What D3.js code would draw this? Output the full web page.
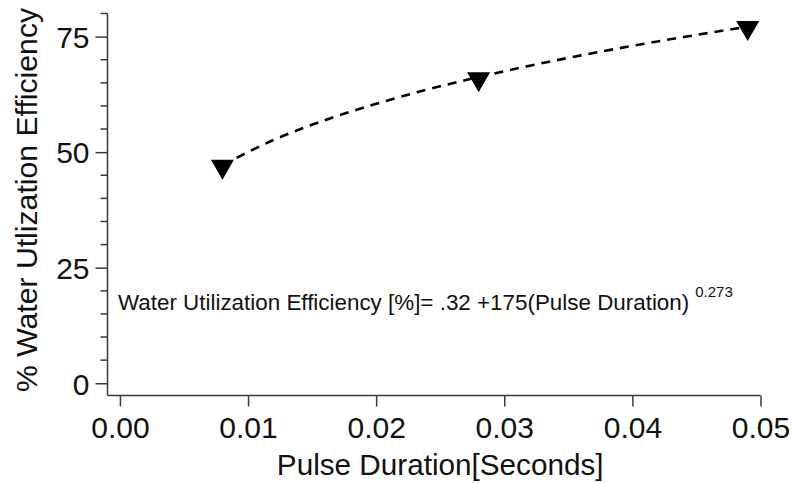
<!DOCTYPE html>
<html>
<head>
<meta charset="utf-8">
<script src="https://cdn.jsdelivr.net/npm/d3@7/dist/d3.min.js"></script>
<style>
  html, body { margin: 0; padding: 0; background: #fff; }
  svg { display: block; font-family: "Liberation Sans", Arial, sans-serif; }
</style>
</head>
<body>
<svg id="chart" width="792" height="483"></svg>
<script>
// ---- data ----
const pulseDuration = [0.008, 0.028, 0.049];          // seconds
const efficiency    = [46.2, 65.1, 76.2];             // %
// fitted curve (dashed)
const fitX = [0.008, 0.012, 0.016, 0.020, 0.024, 0.028, 0.032, 0.036, 0.040, 0.044, 0.049];
const fitY = [47.17, 52.65, 56.92, 60.47, 63.55, 66.25, 68.70, 70.94, 73.00, 74.91, 77.14];
const xTicks = [0.00, 0.01, 0.02, 0.03, 0.04, 0.05];
const yTicks = [0, 25, 50, 75];
const yMinorTicks = [5, 10, 15, 20, 30, 35, 40, 45, 55, 60, 65, 70, 80];
const xTitle = "Pulse Duration[Seconds]";
const yTitle = "% Water Utlization Efficiency";
const eqMain = "Water Utilization Efficiency [%]= .32 +175(Pulse Duration)";
const eqExp = "0.273";

(function () {
// ---- layout ----
const svg = d3.select("#chart");
const mLeft = 107.5, mRight = 760.5, mTop = 13.5, mBottom = 395.5;
const x = d3.scaleLinear().domain([-0.00097, 0.05]).range([mLeft, mRight]);
const y = d3.scaleLinear().domain([-2.65, 80]).range([mBottom, mTop]);
const axisColor = "#3a3a3a";

// x axis
const gx = svg.append("g").attr("transform", `translate(0,${mBottom})`)
  .call(d3.axisBottom(x).tickValues(xTicks).tickFormat(d3.format(".2f")).tickSize(11).tickPadding(10));
gx.select(".domain").attr("d", `M${mLeft},0H${mRight}`);
// y axis
const gy = svg.append("g").attr("transform", `translate(${mLeft},0)`)
  .call(d3.axisLeft(y).tickValues(yTicks).tickFormat(d3.format("d")).tickSize(12).tickPadding(6));
gy.select(".domain").attr("d", `M0,${mTop}V${mBottom}`);
svg.append("g").attr("transform", `translate(${mLeft},0)`)
  .selectAll("line").data(yMinorTicks).join("line")
  .attr("x1", -7).attr("x2", 0)
  .attr("y1", d => y(d)).attr("y2", d => y(d))
  .attr("stroke", axisColor).attr("stroke-width", 1.5);

[gx, gy].forEach(g => {
  g.selectAll(".domain, .tick line").attr("stroke", axisColor).attr("stroke-width", 1.5);
  g.selectAll(".tick text").attr("fill", "#111").style("font-size", "30px")
    .style("font-family", "'Liberation Sans', Arial, sans-serif");
});
gy.selectAll(".tick text").attr("dy", "0.36em");

// axis titles
svg.append("text").attr("x", (x(0) + x(0.05)) / 2).attr("y", 475)
  .attr("text-anchor", "middle").attr("fill", "#111").style("font-size", "29.7px").text(xTitle);
svg.append("text").attr("transform", "translate(36.5,200) rotate(-90)")
  .attr("text-anchor", "middle").attr("fill", "#111").style("font-size", "30.2px").text(yTitle);

// fit curve
const fitData = fitX.map((v, i) => [v, fitY[i]]);
svg.append("path").datum(fitData)
  .attr("fill", "none").attr("stroke", "#000").attr("stroke-width", 2.6)
  .attr("stroke-dasharray", "9,7")
  .attr("d", d3.line().x(d => x(d[0])).y(d => y(d[1])).curve(d3.curveMonotoneX));

// markers (downward triangles)
const pts = pulseDuration.map((v, i) => [v, efficiency[i]]);
const tw = 23, th = 20;
svg.append("g").selectAll("path").data(pts).join("path")
  .attr("fill", "#000")
  .attr("d", d => {
    const cx = x(d[0]), cy = y(d[1]);
    return `M${cx - tw/2},${cy - th/2}L${cx + tw/2},${cy - th/2}L${cx},${cy + th/2}Z`;
  });

// equation annotation
const eq = svg.append("text").attr("x", 118).attr("y", 309.5)
  .attr("fill", "#111").style("font-size", "22.4px").text(eqMain);
const eqW = eq.node().getComputedTextLength();
svg.append("text").attr("x", 118 + eqW + 6).attr("y", 296.5)
  .attr("fill", "#111").style("font-size", "15px").text(eqExp);
})();
</script>
</body>
</html>
